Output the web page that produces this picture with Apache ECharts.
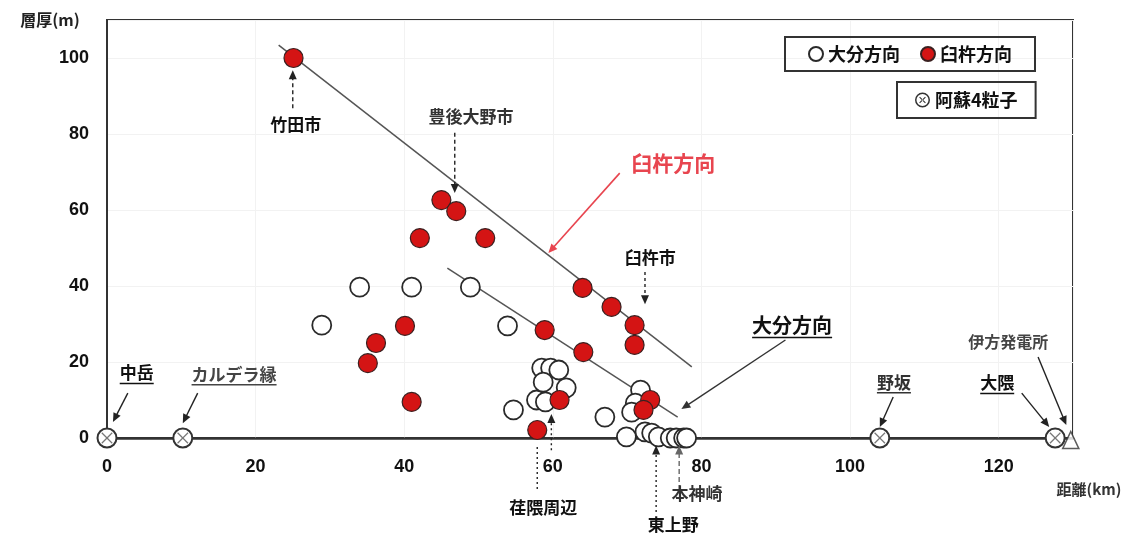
<!DOCTYPE html>
<html>
<head>
<meta charset="utf-8">
<script src="https://cdn.jsdelivr.net/npm/echarts@6/dist/echarts.min.js"></script>
<style>
  html, body { margin: 0; padding: 0; background: #ffffff; }
  #chart { width: 1142px; height: 537px; }
</style>
</head>
<body>
<div id="chart"></div>
<script>
// ---- data: distance (km) vs. layer thickness (m) ----
const xTicks = [0, 20, 40, 60, 80, 100, 120];
const yTicks = [0, 20, 40, 60, 80, 100];

// 大分方向 (open circles)
const oitaPoints = [
  [28.9, 29.7], [34.0, 39.7], [41.0, 39.7], [48.9, 39.7], [53.9, 29.5],
  [54.7, 7.4], [57.8, 10.0], [59.0, 9.5], [58.5, 18.4], [59.7, 18.4],
  [60.8, 17.9], [58.7, 14.7], [61.8, 13.2], [67.0, 5.5],
  [71.8, 12.6], [71.1, 9.2], [70.6, 6.8],
  [69.9, 0.3], [72.4, 1.6], [73.3, 1.3], [74.2, 0.3], [75.8, 0],
  [76.6, 0], [77.6, 0], [78.0, 0]
];

// 臼杵方向 (red filled circles)
const usukiPoints = [
  [25.1, 100], [45.0, 62.6], [47.0, 59.7], [42.1, 52.6], [50.9, 52.6],
  [64.0, 39.5], [67.9, 34.5], [71.0, 29.7], [71.0, 24.5],
  [40.1, 29.5], [36.2, 25.0], [35.1, 19.7], [41.0, 9.5],
  [58.9, 28.4], [64.1, 22.6], [60.9, 10.0], [57.9, 2.1],
  [73.1, 10.0], [72.2, 7.4]
];

// 阿蘇4粒子 reference sites on the baseline
const aso4Points = [[0, 0], [10.2, 0], [104.0, 0], [127.6, 0]];
// 伊方発電所
const ikataPoint = [[129.7, 0]];

// trend lines
const usukiTrend = [[23.1, 103.4], [78.7, 18.7]];
const oitaTrend = [[45.8, 44.7], [76.8, 5.5]];

// ---- annotations (anchored in axis units) ----
const JP = '"Noto Sans CJK JP", "Noto Sans CJK SC", sans-serif';
const labels = [
  { text: '竹田市', at: [25.4, 82.4], size: 17 },
  { text: '豊後大野市', at: [49.0, 84.5], size: 17, color: '#333' },
  { text: '臼杵方向', at: [76.2, 72.4], size: 21, color: '#e8454f' },
  { text: '臼杵市', at: [73.1, 47.4], size: 17 },
  { text: '大分方向', at: [92.2, 29.7], size: 20, underline: true },
  { text: '中岳', at: [4.0, 17.1], size: 17, underline: true },
  { text: 'カルデラ縁', at: [17.1, 16.8], size: 17, color: '#444', underline: true },
  { text: '野坂', at: [105.9, 14.7], size: 17, color: '#333', underline: true },
  { text: '大隈', at: [119.8, 14.5], size: 17, underline: true },
  { text: '伊方発電所', at: [121.3, 25.3], size: 16, color: '#444' },
  { text: '荏隈周辺', at: [58.7, -18.4], size: 17 },
  { text: '本神崎', at: [79.4, -14.5], size: 17, color: '#333' },
  { text: '東上野', at: [76.2, -22.9], size: 17 }
];
const arrows = [
  { from: [25.0, 86.8], to: [25.0, 96.8], dash: [4, 3] },
  { from: [46.8, 80.3], to: [46.8, 64.5], dash: [4, 3] },
  { from: [69.0, 69.7], to: [59.4, 48.7], color: '#e8454f', width: 1.6 },
  { from: [72.4, 43.7], to: [72.4, 35.2], dash: [3, 3] },
  { from: [91.3, 25.8], to: [77.3, 7.6], color: '#333' },
  { from: [2.8, 11.8], to: [0.8, 4.2] },
  { from: [12.2, 11.8], to: [10.2, 3.9] },
  { from: [105.8, 10.8], to: [104.0, 2.9] },
  { from: [123.1, 11.8], to: [126.8, 2.9] },
  { from: [125.3, 21.3], to: [129.1, 3.4] },
  { from: [59.8, -3.2], to: [59.8, 6.3], dash: [2, 3] },
  { from: [57.9, -2.4], to: [57.9, -13.7], dash: [2, 3], head: false },
  { from: [77.0, -13.7], to: [77.0, -2.0], dash: [5, 3], color: '#666' },
  { from: [73.9, -19.5], to: [73.9, -2.0], dash: [2, 3] }
];

// ring with a cross, used as the legend icon for 阿蘇4粒子
const aso4Icon = 'path://M0,-10A10,10,0,1,1,0,10A10,10,0,1,1,0,-10ZM0,-8A8,8,0,1,0,0,8A8,8,0,1,0,0,-8Z' +
  'M3.39,4.38L4.38,3.39L-3.39,-4.38L-4.38,-3.39Z' +
  'M-3.39,4.38L-4.38,3.39L3.39,-4.38L4.38,-3.39Z';

const chart = echarts.init(document.getElementById('chart'));

const legendText = { fontFamily: JP, fontWeight: 'bold', fontSize: 18, color: '#111' };

chart.setOption({
  backgroundColor: '#ffffff',
  animation: false,
  grid: {
    left: 107, right: 69, top: 20, bottom: 99,
    show: true, borderColor: '#333', borderWidth: 2, backgroundColor: 'transparent'
  },
  legend: [
    {
      data: ['大分方向', '臼杵方向'],
      left: 785, top: 37,
      orient: 'horizontal',
      selectedMode: false,
      itemWidth: 14, itemHeight: 14, itemGap: 20,
      padding: [8, 23],
      borderColor: '#333', borderWidth: 2,
      textStyle: legendText
    },
    {
      data: [{ name: '阿蘇4粒子', icon: aso4Icon }],
      left: 897, top: 82,
      selectedMode: false,
      itemWidth: 15, itemHeight: 15,
      padding: [9, 18],
      borderColor: '#333', borderWidth: 2,
      textStyle: legendText
    }
  ],
  xAxis: {
    type: 'value', min: 0, max: 130, interval: 20,
    axisLine: { show: true, onZero: false, lineStyle: { color: '#333', width: 2.5 } },
    axisTick: { show: false },
    splitLine: { show: true, lineStyle: { color: '#f2f2f2', width: 1 } },
    axisLabel: {
      margin: 20, fontSize: 18, fontWeight: 'bold', color: '#111',
      fontFamily: '"Liberation Sans", Arial, sans-serif',
      formatter: v => (xTicks.includes(v) ? String(v) : '')
    }
  },
  yAxis: {
    type: 'value', min: 0, max: 110, interval: 20,
    axisLine: { show: true, lineStyle: { color: '#333', width: 2 } },
    axisTick: { show: false },
    splitLine: { show: true, lineStyle: { color: '#f2f2f2', width: 1 } },
    axisLabel: {
      margin: 18, fontSize: 18, fontWeight: 'bold', color: '#111',
      fontFamily: '"Liberation Sans", Arial, sans-serif',
      formatter: v => (yTicks.includes(v) ? String(v) : '')
    }
  },
  series: [
    {
      name: 'usukiTrend', type: 'line', data: usukiTrend, symbol: 'none', silent: true,
      lineStyle: { color: '#555', width: 1.5 }, z: 1
    },
    {
      name: 'oitaTrend', type: 'line', data: oitaTrend, symbol: 'none', silent: true,
      lineStyle: { color: '#555', width: 1.5 }, z: 1
    },
    {
      name: '大分方向', type: 'scatter', data: oitaPoints,
      symbol: 'circle', symbolSize: 19,
      itemStyle: { color: '#ffffff', borderColor: '#2a2a2a', borderWidth: 1.8, opacity: 1 },
      z: 3
    },
    {
      name: '臼杵方向', type: 'scatter', data: usukiPoints,
      symbol: 'circle', symbolSize: 19,
      itemStyle: { color: '#d41414', borderColor: '#3a2020', borderWidth: 1.2, opacity: 1 },
      z: 4
    },
    {
      name: '阿蘇4粒子', type: 'custom', data: aso4Points,
      encode: { x: 0, y: 1 },
      itemStyle: { color: '#333' },
      z: 5,
      renderItem: function (params, api) {
        const p = api.coord([api.value(0), api.value(1)]);
        const r = 9.5, k = r * 0.55;
        return {
          type: 'group',
          children: [
            { type: 'circle', shape: { cx: p[0], cy: p[1], r: r }, style: { fill: '#fff', stroke: '#333', lineWidth: 2 } },
            { type: 'line', shape: { x1: p[0] - k, y1: p[1] - k, x2: p[0] + k, y2: p[1] + k }, style: { stroke: '#777', lineWidth: 1.2 } },
            { type: 'line', shape: { x1: p[0] - k, y1: p[1] + k, x2: p[0] + k, y2: p[1] - k }, style: { stroke: '#777', lineWidth: 1.2 } }
          ]
        };
      }
    },
    {
      name: '伊方発電所', type: 'scatter', data: ikataPoint,
      symbol: 'triangle', symbolSize: [16, 17], symbolOffset: [0, 2],
      itemStyle: { color: '#ffffff', borderColor: '#333', borderWidth: 1.6 },
      z: 5
    }
  ]
});

// ---- overlay text, arrows and axis titles ----
const measureCtx = document.createElement('canvas').getContext('2d');
function textWidth(text, size) {
  measureCtx.font = 'bold ' + size + 'px ' + JP;
  return measureCtx.measureText(text).width;
}
function px(pt) { return chart.convertToPixel({ gridIndex: 0 }, pt); }

const overlay = [];

labels.forEach(l => {
  const p = px(l.at);
  const color = l.color || '#111';
  overlay.push({
    type: 'text', x: p[0], y: p[1], z: 20,
    style: {
      text: l.text, fill: color, fontFamily: JP, fontWeight: 'bold', fontSize: l.size,
      align: 'center', verticalAlign: 'middle'
    }
  });
  if (l.underline) {
    const w = textWidth(l.text, l.size);
    const y = p[1] + l.size * 0.62;
    overlay.push({
      type: 'line', z: 20,
      shape: { x1: p[0] - w / 2, y1: y, x2: p[0] + w / 2, y2: y },
      style: { stroke: color, lineWidth: 1.4 }
    });
  }
});

arrows.forEach(a => {
  const p0 = px(a.from), p1 = px(a.to);
  const color = a.color || '#222';
  const dx = p1[0] - p0[0], dy = p1[1] - p0[1];
  const len = Math.hypot(dx, dy) || 1;
  const ux = dx / len, uy = dy / len;
  const L = 9, W = 4;
  const hasHead = a.head !== false;
  const endX = hasHead ? p1[0] - ux * L * 0.7 : p1[0];
  const endY = hasHead ? p1[1] - uy * L * 0.7 : p1[1];
  overlay.push({
    type: 'line', z: 19,
    shape: { x1: p0[0], y1: p0[1], x2: endX, y2: endY },
    style: { stroke: color, lineWidth: a.width || 1.4, lineDash: a.dash || null }
  });
  if (hasHead) {
    const bx = p1[0] - ux * L, by = p1[1] - uy * L;
    overlay.push({
      type: 'polygon', z: 19,
      shape: { points: [[p1[0], p1[1]], [bx - uy * W, by + ux * W], [bx + uy * W, by - ux * W]] },
      style: { fill: color }
    });
  }
});

// axis titles
overlay.push({
  type: 'text', x: 50, y: 20, z: 20,
  style: { text: '層厚(m)', fill: '#222', fontFamily: JP, fontWeight: 'bold', fontSize: 16, align: 'center', verticalAlign: 'middle' }
});
overlay.push({
  type: 'text', x: 1089, y: 489, z: 20,
  style: { text: '距離(km)', fill: '#333', fontFamily: JP, fontWeight: 'bold', fontSize: 15, align: 'center', verticalAlign: 'middle' }
});

chart.setOption({ graphic: overlay });
</script>
</body>
</html>
